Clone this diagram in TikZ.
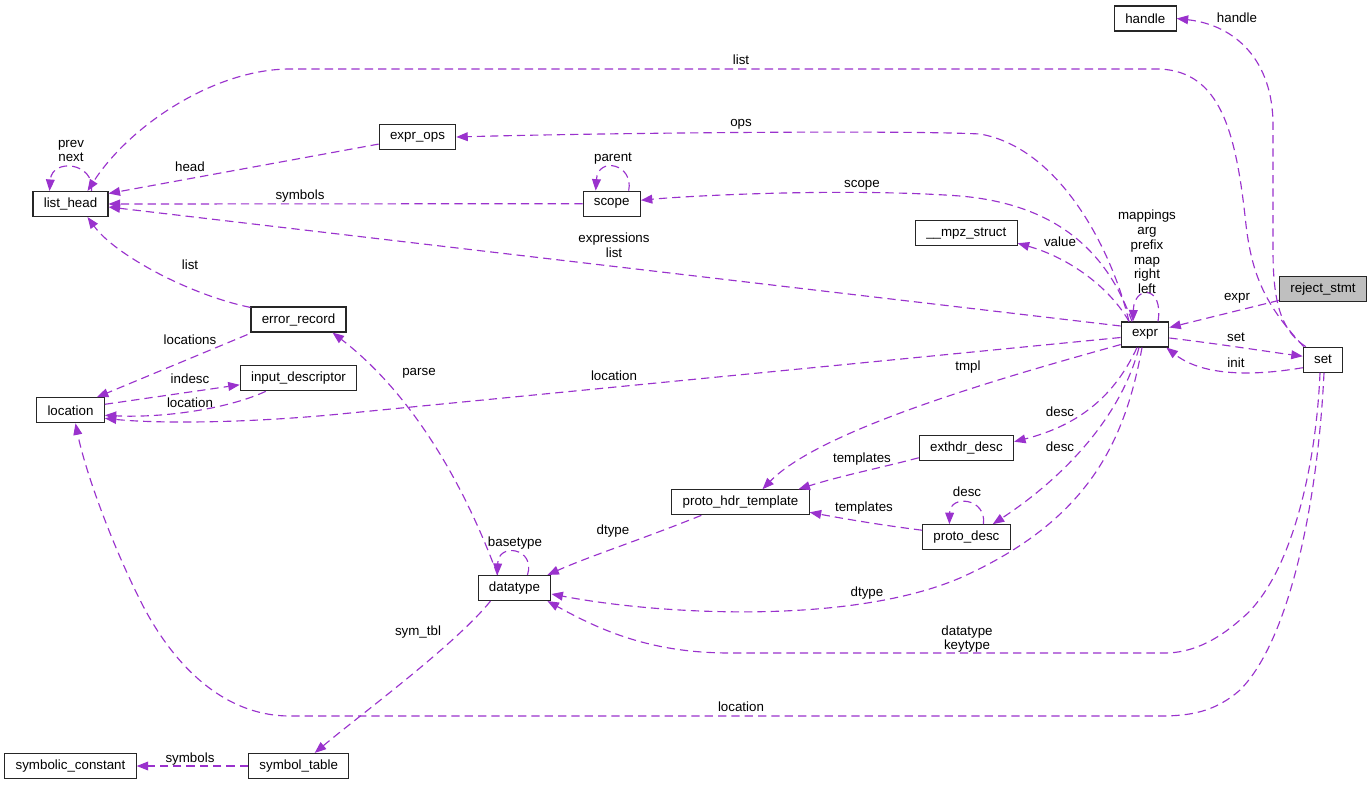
\documentclass[tikz,border=0pt]{standalone}
\usepackage{fontspec}
\setmainfont{Liberation Sans}
\usetikzlibrary{arrows.meta,calc}
\definecolor{edgec}{HTML}{9A32CD}
\definecolor{rootfill}{HTML}{BFBFBF}
\begin{document}
\begin{tikzpicture}[x=0.75pt,y=-0.75pt,
  box/.style={draw=black!85,line width=0.85pt,fill=white,rectangle,minimum height=18.75pt,inner xsep=8.1pt,inner ysep=0pt,font=\fontsize{10}{12}\selectfont},
  rootbox/.style={box,fill=rootfill},
  edge/.style={draw=edgec,line width=0.85pt,dash pattern=on 6.2pt off 3.8pt,-{Triangle[length=8.6pt,width=6.6pt]}},
  lbl/.style={inner sep=0pt,font=\fontsize{10}{11.1}\selectfont,align=center}]
\useasboundingbox[fill=white] (0,0) rectangle (1372,785);

% nodes
\node[box] (handle) at (1145.3,18.5) {handle};
\node[rootbox] (rejectstmt) at (1323,289.3) {reject\_stmt};
\node[box] (set) at (1323,359.7) {set};
\node[box] (expr) at (1145,334.5) {expr};
\node[box] (mpz) at (966.3,233.2) {\_\_mpz\_struct};
\node[box] (listhead) at (70.5,204) {list\_head};
\node[box] (exprops) at (417.5,137) {expr\_ops};
\node[box] (scope) at (611.7,203.7) {scope};
\node[box] (errrec) at (298.5,319.5) {error\_record};
\node[box] (inputdesc) at (298.5,378.3) {input\_descriptor};
\node[box] (location) at (70.5,410.3) {location};
\node[box] (exthdr) at (966.4,447.7) {exthdr\_desc};
\node[box] (pht) at (740.5,502.3) {proto\_hdr\_template};
\node[box] (protodesc) at (966.4,537.2) {proto\_desc};
\node[box] (datatype) at (514.5,588) {datatype};
\node[box] (symtab) at (298.7,766) {symbol\_table};
\node[box] (symconst) at (70.5,766) {symbolic\_constant};

% edges
\draw[edge] ($(set.north west)+(3,0)$) .. controls (1280,330) and (1273,300) .. (1273,250) -- (1273,125) .. controls (1273,60) and (1235,25) .. (handle.east);
\draw[edge] ($(set.north west)+(1,0)$) .. controls (1265,305) and (1252,275) .. (1246,225) .. controls (1236,130) and (1220,72) .. (1160,69) -- (290,69) .. controls (215,69) and (130,125) .. ($(listhead.north east)+(-21,0)$);
\draw[edge] ($(expr.north)+(-16,0)$) .. controls (1112,250) and (1060,148) .. (980,134) .. controls (900,130) and (600,133) .. (exprops.east);
\draw[edge] ($(expr.north)+(-13,0)$) .. controls (1110,260) and (1065,205) .. (960,196) .. controls (850,188) and (700,195) .. ($(scope.east)+(0,-3.5)$);
\draw[edge] ($(exprops.south west)+(0,-6)$) -- ($(listhead.east)+(0,-10.5)$);
\draw[edge] (scope.west) -- (listhead.east);
\draw[edge] ($(expr.west)+(0,-8.5)$) -- ($(listhead.east)+(0,3)$);
\draw[edge] ($(expr.west)+(0,3)$) -- (330,415) .. controls (230,424) and (150,423) .. ($(location.east)+(0,8)$);
\draw[edge] ($(scope.north)+(17,0)$) .. controls (634,164) and (598,156) .. ($(scope.north)+(-16,0)$);
\draw[edge] ($(listhead.north)+(21,0)$) .. controls (95,162) and (52,158) .. ($(listhead.north)+(-21,0)$);
\draw[edge] ($(errrec.north west)+(0,1)$) .. controls (190,295) and (115,255) .. ($(listhead.south east)+(-21,0)$);
\draw[edge] ($(errrec.south west)+(-3,2)$) -- ($(location.north east)+(-8,0)$);
\draw[edge] ($(location.east)+(0,-6)$) -- ($(inputdesc.west)+(0,6.5)$);
\draw[edge] ($(inputdesc.south west)+(26,0)$) .. controls (225,410) and (160,418) .. ($(location.east)+(0,5)$);
\draw[edge] ($(datatype.north)+(-17,0)$) .. controls (470,500) and (420,400) .. ($(errrec.south east)+(-14,0)$);
\draw[edge] ($(datatype.north)+(13,0)$) .. controls (536,548) and (498,542) .. ($(datatype.north)+(-17,0)$);
\draw[edge] ($(expr.north)+(-16,0)$) .. controls (1110,288) and (1070,258) .. ($(mpz.south east)+(0,-3)$);
\draw[edge] ($(expr.north)+(13,0)$) .. controls (1164,285) and (1134,285) .. ($(expr.north)+(-12,0)$);
\draw[edge] ($(rejectstmt.south west)+(0,-2)$) -- ($(expr.east)+(0,-7)$);
\draw[edge] ($(expr.east)+(0,3.5)$) .. controls (1220,344) and (1270,352) .. ($(set.west)+(0,-3.5)$);
\draw[edge] ($(set.west)+(0,8)$) .. controls (1260,375) and (1205,378) .. ($(expr.south east)+(-3,0)$);
\draw[edge] ($(expr.south west)+(0,-3)$) .. controls (1000,378) and (820,430) .. ($(pht.north)+(22,0)$);
\draw[edge] ($(expr.south)+(-8,0)$) .. controls (1115,395) and (1080,425) .. ($(exthdr.east)+(0,-6)$);
\draw[edge] ($(expr.south)+(-6,0)$) .. controls (1120,420) and (1060,480) .. ($(protodesc.north east)+(-18,0)$);
\draw[edge] ($(expr.south)+(-3,0)$) .. controls (1125,440) and (1090,520) .. (960,578) .. controls (850,625) and (660,615) .. ($(datatype.east)+(0,6)$);
\draw[edge] ($(set.south)+(-3,0)$) .. controls (1316,470) and (1290,580) .. (1240,620) .. controls (1215,642) and (1190,653) .. (1165,653) -- (730,653) .. controls (650,653) and (600,630) .. ($(datatype.south east)+(-4,0)$);
\draw[edge] ($(set.south)+(1,0)$) .. controls (1318,500) and (1290,640) .. (1240,690) .. controls (1215,712) and (1190,716) .. (1160,716) -- (290,716) .. controls (220,716) and (170,660) .. (140,600) .. controls (110,540) and (85,470) .. ($(location.south)+(5,0)$);
\draw[edge] ($(datatype.south)+(-24,0)$) .. controls (455,645) and (360,715) .. ($(symtab.north)+(16,0)$);
\draw[edge] (symtab.west) -- (symconst.east);
\draw[edge] ($(exthdr.south west)+(0,-3)$) .. controls (880,468) and (840,476) .. ($(pht.north)+(58,0)$);
\draw[edge] ($(protodesc.west)+(0,-7)$) .. controls (880,525) and (840,518) .. ($(pht.east)+(0,10)$);
\draw[edge] ($(protodesc.north)+(17,0)$) .. controls (987,498) and (950,494) .. ($(protodesc.north)+(-17,0)$);
\draw[edge] ($(pht.south west)+(30,0)$) .. controls (640,540) and (590,556) .. ($(datatype.north east)+(-4,0)$);

% labels
\node[lbl] (l1) at (1237,18) {handle};
\node[lbl] (l2) at (741,60) {list};
\node[lbl] (l3) at (741,124) {ops};
\node[lbl] (l4) at (862,185) {scope};
\node[lbl] (l5) at (190,167) {head};
\node[lbl] (l6) at (300,196) {symbols};
\node[lbl] (l7) at (614,245) {expressions\\list};
\node[lbl] (l8) at (613,159) {parent};
\node[lbl] (l9) at (71,151) {prev\\next};
\node[lbl] (l10) at (190,265) {list};
\node[lbl] (l11) at (190,340) {locations};
\node[lbl] (l12) at (190,379) {indesc};
\node[lbl] (l13) at (190,403) {location};
\node[lbl] (l14) at (614,376) {location};
\node[lbl] (l15) at (419,373) {parse};
\node[lbl] (l16) at (1060,242) {value};
\node[lbl] (l17) at (1147,252) {mappings\\arg\\prefix\\map\\right\\left};
\node[lbl] (l18) at (1237,298) {expr};
\node[lbl] (l19) at (1236,337) {set};
\node[lbl] (l20) at (1236,363) {init};
\node[lbl] (l21) at (968,367) {tmpl};
\node[lbl] (l22) at (1060,412) {desc};
\node[lbl] (l23) at (1060,447) {desc};
\node[lbl] (l24) at (862,459) {templates};
\node[lbl] (l25) at (864,508) {templates};
\node[lbl] (l26) at (967,492) {desc};
\node[lbl] (l27) at (613,531) {dtype};
\node[lbl] (l28) at (515,543) {basetype};
\node[lbl] (l29) at (867,593) {dtype};
\node[lbl] (l30) at (967,639) {datatype\\keytype};
\node[lbl] (l31) at (741,707) {location};
\node[lbl] (l32) at (418,632) {sym\_tbl};
\node[lbl] (l33) at (190,759) {symbols};
\end{tikzpicture}
\end{document}
